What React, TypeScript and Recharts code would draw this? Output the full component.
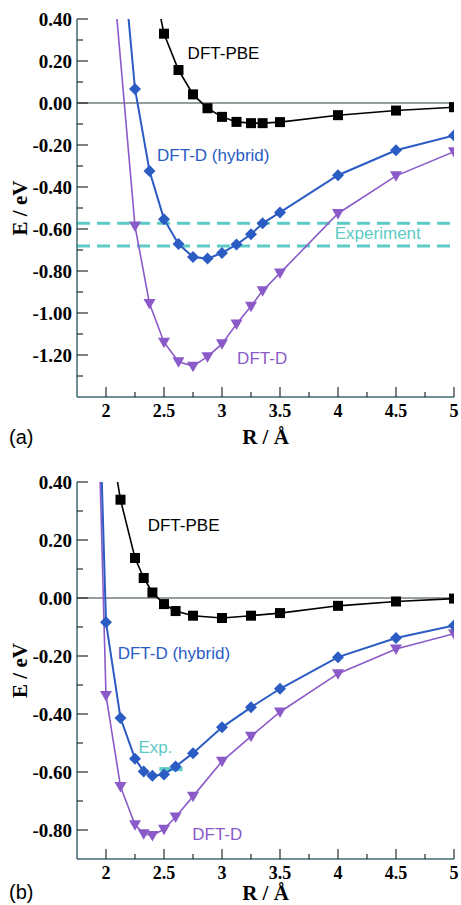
import React from 'react';
import { LineChart, Line, XAxis, YAxis, ReferenceLine, ReferenceDot } from 'recharts';

const FRAME = '#3e6a70';
const TICK = '#2b2b2b';
const BLACK = '#000000';
const BLUE = '#2b5cc3';
const PURPLE = '#8a5bc8';
const TEAL = '#5ccbc6';
const SERIF = "'Liberation Serif', 'Times New Roman', serif";
const SANS = "'Liberation Sans', Arial, sans-serif";

// ---------- axes ----------
const xDomain = [1.75, 5];
const xTicks = [2, 2.25, 2.5, 2.75, 3, 3.25, 3.5, 3.75, 4, 4.25, 4.5, 4.75, 5];
const aDomain = [-1.4, 0.4];
const aYTicks = [-1.3, -1.2, -1.1, -1.0, -0.9, -0.8, -0.7, -0.6, -0.5, -0.4, -0.3, -0.2, -0.1, 0, 0.1, 0.2, 0.3, 0.4];
const bDomain = [-0.9, 0.4];
const bYTicks = [-0.8, -0.7, -0.6, -0.5, -0.4, -0.3, -0.2, -0.1, 0, 0.1, 0.2, 0.3, 0.4];

// ---------- panel (a) ----------
const aPbeR = [2.25, 2.5, 2.625, 2.75, 2.875, 3.0, 3.125, 3.25, 3.35, 3.5, 4.0, 4.5, 5.0];
const aPbeE = [1.0, 0.33, 0.157, 0.041, -0.025, -0.066, -0.09, -0.096, -0.096, -0.091, -0.058, -0.036, -0.02];
const aHybR = [2.0, 2.25, 2.375, 2.5, 2.625, 2.75, 2.875, 3.0, 3.125, 3.25, 3.35, 3.5, 4.0, 4.5, 5.0];
const aHybE = [1.57, 0.067, -0.324, -0.553, -0.672, -0.733, -0.741, -0.714, -0.674, -0.625, -0.573, -0.521, -0.344, -0.225, -0.155];
const aDR = [2.0, 2.25, 2.375, 2.5, 2.625, 2.75, 2.875, 3.0, 3.125, 3.25, 3.35, 3.5, 4.0, 4.5, 5.0];
const aDE = [1.0, -0.586, -0.955, -1.139, -1.232, -1.253, -1.208, -1.147, -1.052, -0.968, -0.894, -0.81, -0.526, -0.347, -0.232];
const aExperiment = [-0.573, -0.681];

// ---------- panel (b) ----------
const bPbeR = [2.0, 2.125, 2.25, 2.325, 2.4, 2.5, 2.6, 2.75, 3.0, 3.25, 3.5, 4.0, 4.5, 5.0];
const bPbeE = [0.64, 0.339, 0.138, 0.069, 0.019, -0.021, -0.045, -0.061, -0.069, -0.061, -0.052, -0.027, -0.012, -0.002];
const bHybR = [1.875, 2.0, 2.125, 2.25, 2.325, 2.4, 2.5, 2.6, 2.75, 3.0, 3.25, 3.5, 4.0, 4.5, 5.0];
const bHybE = [1.6, -0.084, -0.414, -0.554, -0.598, -0.613, -0.609, -0.581, -0.535, -0.446, -0.377, -0.313, -0.204, -0.138, -0.095];
const bDR = [1.875, 2.0, 2.125, 2.25, 2.325, 2.4, 2.5, 2.6, 2.75, 3.0, 3.25, 3.5, 4.0, 4.5, 5.0];
const bDE = [1.5, -0.336, -0.65, -0.782, -0.813, -0.819, -0.797, -0.755, -0.684, -0.563, -0.477, -0.393, -0.261, -0.176, -0.123];
const bExpR = [2.46, 2.66];
const bExpE = -0.59;

// ---------- annotations ----------
const aNotes = [
  { text: 'DFT-PBE', r: 3.013, e: 0.24, color: BLACK },
  { text: 'DFT-D (hybrid)', r: 2.925, e: -0.249, color: BLUE },
  { text: 'Experiment', r: 4.343, e: -0.619, color: TEAL },
  { text: 'DFT-D', r: 3.346, e: -1.216, color: PURPLE },
];
const bNotes = [
  { text: 'DFT-PBE', r: 2.669, e: 0.253, color: BLACK },
  { text: 'DFT-D (hybrid)', r: 2.585, e: -0.188, color: BLUE },
  { text: 'Exp.', r: 2.426, e: -0.512, color: TEAL },
  { text: 'DFT-D', r: 2.959, e: -0.813, color: PURPLE },
];

const zip = (rs: number[], es: number[]) => rs.map((r, i) => ({ r, e: es[i] }));

// ---------- markers ----------
const SquareDot = (p: any) => {
  if (p.cx == null || p.cy == null) return null;
  return <rect key={`s${p.index}`} x={p.cx - 5} y={p.cy - 5} width={10} height={10} fill={BLACK} />;
};
const DiamondDot = (p: any) => {
  if (p.cx == null || p.cy == null) return null;
  const { cx, cy } = p;
  return <polygon key={`d${p.index}`} points={`${cx},${cy - 6} ${cx + 6},${cy} ${cx},${cy + 6} ${cx - 6},${cy}`} fill={BLUE} />;
};
const TriDot = (p: any) => {
  if (p.cx == null || p.cy == null) return null;
  const { cx, cy } = p;
  return <polygon key={`t${p.index}`} points={`${cx - 6},${cy - 4.5} ${cx + 6},${cy - 4.5} ${cx},${cy + 6}`} fill={PURPLE} />;
};

// ---------- ticks ----------
const near = (v: number, step: number) => Math.abs(v / step - Math.round(v / step)) < 1e-6;
const fmtY = (v: number) => (Math.abs(v) < 1e-9 ? '0.00' : v.toFixed(2));
const fmtX = (v: number) => String(v);

const LeftTick = (p: any) => {
  const v = p.payload.value;
  const major = near(v, 0.2);
  return (
    <g>
      <line x1={p.x} y1={p.y} x2={p.x + (major ? 11 : 6)} y2={p.y} stroke={TICK} strokeWidth={1.2} />
      {major && (
        <text x={p.x - 5} y={p.y} textAnchor="end" dominantBaseline="central" fontFamily={SERIF} fontWeight="bold" fontSize={19} fill={BLACK}>
          {fmtY(v)}
        </text>
      )}
    </g>
  );
};
const RightTick = (p: any) => {
  const v = p.payload.value;
  const major = near(v, 0.2);
  return <line x1={p.x} y1={p.y} x2={p.x - (major ? 11 : 6)} y2={p.y} stroke={TICK} strokeWidth={1.2} />;
};
const BottomTick = (p: any) => {
  const v = p.payload.value;
  const major = near(v, 0.5);
  return (
    <g>
      <line x1={p.x} y1={p.y} x2={p.x} y2={p.y - (major ? 10 : 5)} stroke={TICK} strokeWidth={1.2} />
      {major && (
        <text x={p.x} y={p.y + 14} textAnchor="middle" dominantBaseline="central" fontFamily={SERIF} fontWeight="bold" fontSize={18} fill={BLACK}>
          {fmtX(v)}
        </text>
      )}
    </g>
  );
};
const TopTick = (p: any) => {
  const v = p.payload.value;
  const major = near(v, 0.5);
  return <line x1={p.x} y1={p.y} x2={p.x} y2={p.y + (major ? 10 : 5)} stroke={TICK} strokeWidth={1.2} />;
};

const YTitle = (p: any) => {
  const vb = p.viewBox;
  return (
    <text transform={`translate(${vb.x + 20}, ${vb.y + vb.height / 2}) rotate(-90)`} textAnchor="middle" dominantBaseline="central" fontFamily={SERIF} fontWeight="bold" fontSize={21} fill={BLACK}>
      E / eV
    </text>
  );
};
const makeXTitle = (offset: number) => (p: any) => {
  const vb = p.viewBox;
  return (
    <text x={vb.x + vb.width / 2} y={vb.y + offset} textAnchor="middle" dominantBaseline="central" fontFamily={SERIF} fontWeight="bold" fontSize={21} fill={BLACK}>
      R / Å
    </text>
  );
};

type PanelProps = {
  height: number;
  top: number;
  xHeight: number;
  titleOffset: number;
  yDomain: number[];
  yTicks: number[];
  pbe: { r: number; e: number }[];
  hyb: { r: number; e: number }[];
  dd: { r: number; e: number }[];
  notes: { text: string; r: number; e: number; color: string }[];
  children?: React.ReactNode;
};

const axisLine = { stroke: FRAME, strokeWidth: 1.5 };

function Panel({ height, top, xHeight, titleOffset, yDomain, yTicks, pbe, hyb, dd, notes, children }: PanelProps) {
  return (
    <LineChart width={461} height={height} margin={{ top, right: 7, bottom: 0, left: 0 }}>
      <XAxis dataKey="r" type="number" domain={xDomain} ticks={xTicks} allowDataOverflow interval={0}
        height={xHeight} tickSize={0} tickMargin={0} tickLine={false} axisLine={axisLine} tick={BottomTick} label={makeXTitle(titleOffset)} />
      <XAxis xAxisId="top" orientation="top" dataKey="r" type="number" domain={xDomain} ticks={xTicks} allowDataOverflow interval={0}
        height={0} tickSize={0} tickMargin={0} tickLine={false} axisLine={axisLine} tick={TopTick} />
      <YAxis type="number" domain={yDomain} ticks={yTicks} allowDataOverflow interval={0}
        width={77} tickSize={0} tickMargin={0} tickLine={false} axisLine={axisLine} tick={LeftTick} label={YTitle} />
      <YAxis yAxisId="right" orientation="right" type="number" domain={yDomain} ticks={yTicks} allowDataOverflow interval={0}
        width={0} tickSize={0} tickMargin={0} tickLine={false} axisLine={axisLine} tick={RightTick} />
      <ReferenceLine y={0} stroke="#2e3c3c" strokeWidth={1} />
      {children}
      <Line data={dd} dataKey="e" stroke={PURPLE} strokeWidth={1.6} dot={TriDot} type="linear" isAnimationActive={false} />
      <Line data={hyb} dataKey="e" stroke={BLUE} strokeWidth={2} dot={DiamondDot} type="linear" isAnimationActive={false} />
      <Line data={pbe} dataKey="e" stroke={BLACK} strokeWidth={1.6} dot={SquareDot} type="linear" isAnimationActive={false} />
      {notes.map((n) => (
        <ReferenceDot key={n.text} x={n.r} y={n.e} r={0} fill="none" stroke="none"
          label={{ value: n.text, position: 'center', fill: n.color, fontSize: 17, fontFamily: SANS }} />
      ))}
    </LineChart>
  );
}

const panelLabel: React.CSSProperties = { position: 'absolute', left: 9, fontFamily: SANS, fontSize: 20, color: BLACK, lineHeight: '20px' };

export default function App() {
  return (
    <div style={{ position: 'absolute', left: 0, top: 0, width: 461, height: 905, background: '#ffffff', overflow: 'hidden' }}>
      <div style={{ position: 'absolute', left: 0, top: 0 }}>
        <Panel height={455} top={19} xHeight={58} titleOffset={40} yDomain={aDomain} yTicks={aYTicks}
          pbe={zip(aPbeR, aPbeE)} hyb={zip(aHybR, aHybE)} dd={zip(aDR, aDE)} notes={aNotes}>
          {aExperiment.map((e) => (
            <ReferenceLine key={e} y={e} stroke={TEAL} strokeWidth={3} strokeDasharray="13 7" />
          ))}
        </Panel>
      </div>
      <div style={{ ...panelLabel, top: 427 }}>(a)</div>
      <div style={{ position: 'absolute', left: 0, top: 460 }}>
        <Panel height={445} top={22} xHeight={46} titleOffset={34} yDomain={bDomain} yTicks={bYTicks}
          pbe={zip(bPbeR, bPbeE)} hyb={zip(bHybR, bHybE)} dd={zip(bDR, bDE)} notes={bNotes}>
          <ReferenceLine segment={[{ x: bExpR[0], y: bExpE }, { x: bExpR[1], y: bExpE }]} stroke={TEAL} strokeWidth={4} />
        </Panel>
      </div>
      <div style={{ ...panelLabel, top: 882 }}>(b)</div>
    </div>
  );
}
